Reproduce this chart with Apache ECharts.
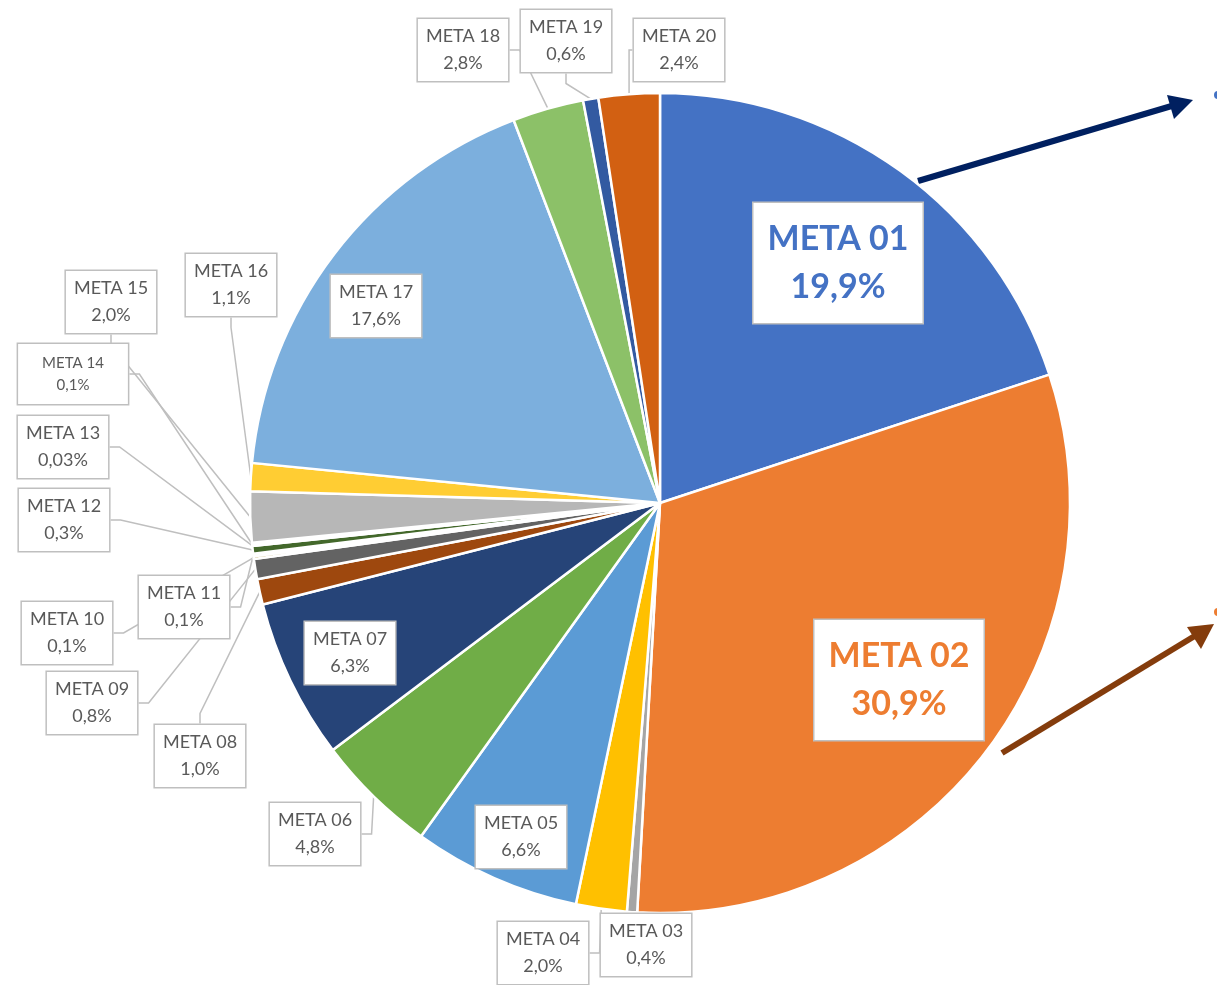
<!DOCTYPE html>
<html>
<head>
<meta charset="utf-8">
<script src="https://cdn.jsdelivr.net/npm/echarts@6/dist/echarts.min.js"></script>
<style>
  html, body { margin: 0; padding: 0; background: #fff; }
  #chart { width: 1217px; height: 985px; }
</style>
</head>
<body>
<div id="chart"></div>
<script>
// categories and shares (%), clockwise from 12 o'clock
var names = [
  "META 01", "META 02", "META 03", "META 04", "META 05",
  "META 06", "META 07", "META 08", "META 09", "META 10",
  "META 11", "META 12", "META 13", "META 14", "META 15",
  "META 16", "META 17", "META 18", "META 19", "META 20"
];
var shares = [
  19.9, 30.9, 0.4, 2.0, 6.6,
  4.8, 6.3, 1.0, 0.8, 0.1,
  0.1, 0.3, 0.03, 0.1, 2.0,
  1.1, 17.6, 2.8, 0.6, 2.4
];
// office palette
var colors = [
  "#4472C4", "#ED7D31", "#A5A5A5", "#FFC000", "#5B9BD5",
  "#70AD47", "#264478", "#9E480E", "#636363", "#997300",
  "#255E91", "#43682B", "#698ED0", "#F1975A", "#B7B7B7",
  "#FFCD33", "#7CAFDD", "#8CC168", "#335AA1", "#D26012"
];
// where each label box sits (centre, px)
var labelPos = [
  [838, 263], [899, 680], [646, 945], [543, 953], [521, 837],
  [315, 834], [350, 653], [200, 756], [92, 703], [67, 633],
  [184, 607], [64, 520], [63, 447], [73, 374], [111, 302],
  [231, 285], [376, 306], [463, 50], [566, 41], [679, 50]
];

function fmt(v) {
  return v.toFixed(v < 0.1 ? 2 : 1).replace(".", ",") + "%";
}

var chartDom = document.getElementById("chart");
var myChart = echarts.init(chartDom);

var data = names.map(function (n, i) {
  var item = { name: n, value: shares[i], itemStyle: { color: colors[i] } };
  if (i === 0 || i === 1) {
    item.label = {
      color: colors[i],
      fontSize: 34,
      fontWeight: "bold",
      lineHeight: 48,
      padding: [12, 14, 12, 14]
    };
  }
  if (i === 13) {
    item.label = { fontSize: 15, lineHeight: 22, padding: [8, 24, 8, 24] };
  }
  return item;
});

var option = {
  animation: false,
  backgroundColor: "#fff",
  series: [
    {
      type: "pie",
      center: [660, 503],
      radius: [0, 410],
      startAngle: 90,
      clockwise: true,
      avoidLabelOverlap: false,
      minShowLabelAngle: 0,
      itemStyle: { borderColor: "#fff", borderWidth: 2.5 },
      label: {
        show: true,
        position: "outside",
        formatter: function (p) {
          return p.name + "\n" + fmt(p.value);
        },
        fontFamily: "Lato, 'Open Sans', sans-serif",
        fontSize: 18,
        lineHeight: 27,
        color: "#595959",
        align: "center",
        backgroundColor: "#fff",
        borderColor: "#BFBFBF",
        borderWidth: 1.5,
        padding: [4, 8, 4, 8]
      },
      labelLine: {
        show: true,
        length: 10,
        length2: 10,
        lineStyle: { color: "#BFBFBF", width: 1.5 }
      },
      labelLayout: function (params) {
        var p = labelPos[params.dataIndex];
        return { x: p[0], y: p[1], align: "center", verticalAlign: "middle" };
      },
      emphasis: { disabled: true },
      data: data
    }
  ],
  graphic: [
    { type: "line", shape: { x1: 918, y1: 181, x2: 1175, y2: 105 },
      style: { stroke: "#002060", lineWidth: 6 } },
    { type: "polygon", shape: { points: [[1193, 100], [1167, 95], [1174, 119]] },
      style: { fill: "#002060" } },
    { type: "circle", shape: { cx: 1218, cy: 95, r: 4 }, style: { fill: "#4472C4" } },
    { type: "line", shape: { x1: 1002, y1: 753, x2: 1198, y2: 634 },
      style: { stroke: "#843C0C", lineWidth: 6 } },
    { type: "polygon", shape: { points: [[1214, 624], [1187, 627], [1201, 649]] },
      style: { fill: "#843C0C" } },
    { type: "circle", shape: { cx: 1218, cy: 612, r: 4 }, style: { fill: "#ED7D31" } }
  ]
};

option && myChart.setOption(option);
</script>
</body>
</html>
